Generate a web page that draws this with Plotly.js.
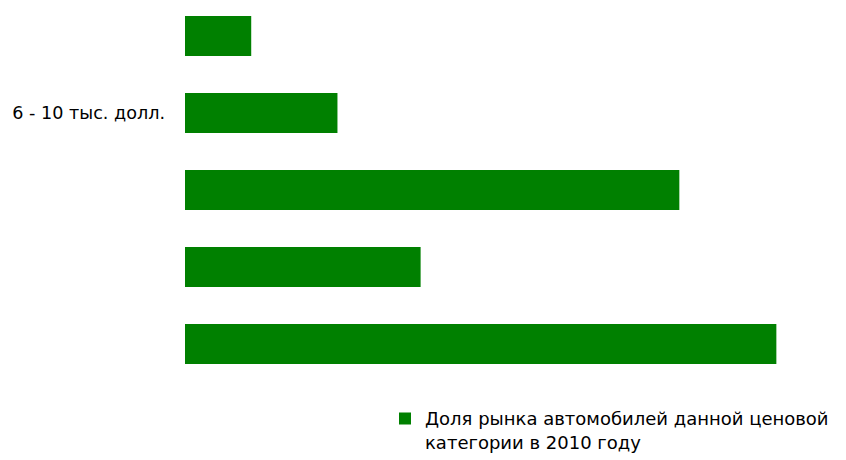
<!DOCTYPE html>
<html>
<head>
<meta charset="utf-8">
<script src="https://cdn.plot.ly/plotly-3.0.1.min.js"></script>
<style>html,body{margin:0;padding:0;background:#fff;}#chart{width:846px;height:460px;}</style>
</head>
<body>
<div id="chart"></div>
<script>
// Price categories, top to bottom
const categories = ["до 6 тыс. долл.", "6 - 10 тыс. долл.", "10 - 15 тыс. долл.", "15 - 20 тыс. долл.", "свыше 20 тыс. долл."];
// Market share (%) in 2010
const shares2010 = [4.3, 9.9, 32.1, 15.3, 38.4];
// Only this tick label is visible in the reference
const shownTicks = ["6 - 10 тыс. долл."];
const seriesName = "Доля рынка автомобилей данной ценовой<br>категории в 2010 году";

const trace = {
  type: "bar",
  orientation: "h",
  x: shares2010,
  y: categories,
  name: seriesName,
  marker: {color: "#008000"},
  width: 0.52,
  showlegend: true,
  hoverinfo: "x+y"
};

const layout = {
  width: 846,
  height: 460,
  margin: {l: 185, r: 45, t: 0, b: 77, pad: 0, autoexpand: false},
  paper_bgcolor: "#fff",
  plot_bgcolor: "#fff",
  font: {family: "DejaVu Sans, Liberation Sans, sans-serif", size: 18, color: "#000"},
  showlegend: true,
  xaxis: {range: [0, 40], visible: false, showgrid: false, zeroline: false},
  yaxis: {
    type: "category",
    categoryorder: "array",
    categoryarray: categories,
    range: [4.506, -0.4675],
    tickvals: shownTicks,
    ticktext: shownTicks,
    showgrid: false, zeroline: false, showline: false,
    ticks: "", ticklabelstandoff: 19,
    tickfont: {size: 17.6}
  },
  legend: {
    x: 200/616, xanchor: "left", y: -0.045, yanchor: "top",
    font: {size: 18}, bgcolor: "rgba(0,0,0,0)", itemwidth: 30, valign: "top"
  }
};

Plotly.newPlot("chart", [trace], layout, {displayModeBar: false, staticPlot: true});
</script>
</body>
</html>
